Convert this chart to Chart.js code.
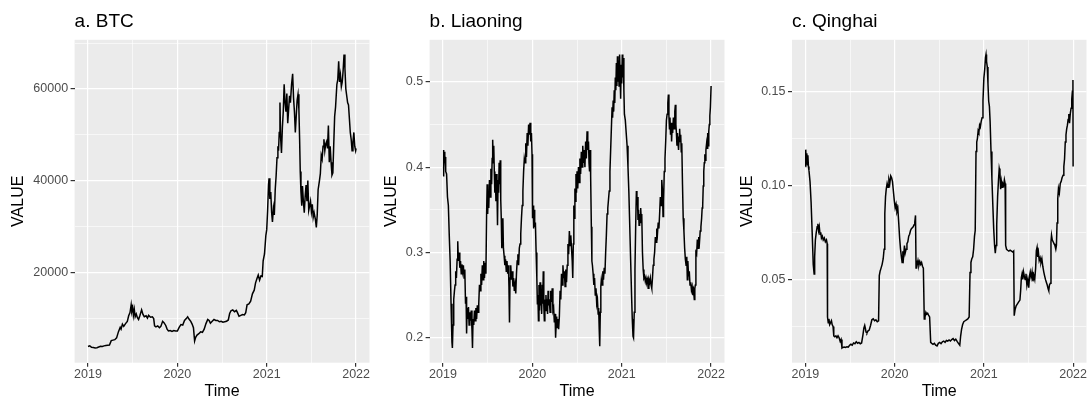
<!DOCTYPE html>
<html>
<head>
<meta charset="utf-8">
<script src="https://cdn.jsdelivr.net/npm/chart.js@4"></script>
<style>
  html, body { margin:0; padding:0; background:#fff; }
  #wrap { position:relative; width:1087px; height:403px; overflow:hidden; }
  canvas { position:absolute; top:0; }
</style>
</head>
<body>
<div id="wrap">
  <canvas id="btcChart" width="372" height="403" style="left:0px"></canvas>
  <canvas id="lnChart" width="355" height="403" style="left:372px"></canvas>
  <canvas id="qhChart" width="360" height="403" style="left:727px"></canvas>
</div>
<script>
// time axis (decimal years) and tick labels
const yearTicks = [2019, 2020, 2021, 2022];
const yearMinor = [2019.5, 2020.5, 2021.5];

const btcTicks = [20000, 40000, 60000];
const btcMinor = [10000, 30000, 50000, 70000];
const lnTicks = [0.2, 0.3, 0.4, 0.5];
const lnMinor = [0.25, 0.35, 0.45];
const qhTicks = [0.05, 0.10, 0.15];
const qhMinor = [0.025, 0.075, 0.125];

// [time, value]
const btc = [
  [2019.000,3800],[2019.020,3950],[2019.040,3650],[2019.060,3600],[2019.080,3480],[2019.100,3550],
  [2019.120,3700],[2019.140,3850],[2019.160,3800],[2019.180,3950],[2019.200,4050],[2019.220,4100],
  [2019.240,4150],[2019.260,5100],[2019.280,5200],[2019.300,5300],[2019.320,5700],[2019.340,7000],
  [2019.360,8000],[2019.370,7600],[2019.385,8700],[2019.400,8200],[2019.420,8800],[2019.440,9300],
  [2019.455,10500],[2019.470,11200],[2019.483,12900],[2019.490,11500],[2019.500,12300],[2019.508,10600],
  [2019.518,11900],[2019.528,10300],[2019.540,10900],[2019.553,10100],[2019.566,9700],[2019.580,10500],
  [2019.600,11800],[2019.615,10800],[2019.630,10300],[2019.650,10500],[2019.665,10000],[2019.678,10600],
  [2019.700,10200],[2019.720,10300],[2019.735,9900],[2019.745,8300],[2019.760,8100],[2019.780,8300],
  [2019.800,7900],[2019.815,8200],[2019.835,9300],[2019.850,9000],[2019.870,8400],[2019.885,7600],
  [2019.900,7200],[2019.920,7300],[2019.940,7100],[2019.960,7300],[2019.980,7200],[2020.000,7200],
  [2020.020,8000],[2020.040,8600],[2020.060,8500],[2020.080,9500],[2020.100,9900],[2020.115,10300],
  [2020.130,9800],[2020.150,9300],[2020.165,8700],[2020.180,7900],[2020.193,5000],[2020.205,5800],
  [2020.220,6300],[2020.240,6600],[2020.260,7000],[2020.280,6900],[2020.300,7600],[2020.320,8800],
  [2020.340,9700],[2020.355,9500],[2020.370,8900],[2020.390,9300],[2020.410,9700],[2020.430,9500],
  [2020.450,9500],[2020.470,9200],[2020.490,9300],[2020.510,9100],[2020.530,9200],[2020.550,9300],
  [2020.570,9600],[2020.585,11000],[2020.600,11600],[2020.620,11800],[2020.640,11400],[2020.660,11700],
  [2020.670,11300],[2020.690,10400],[2020.710,10600],[2020.730,10800],[2020.750,10700],[2020.765,11200],
  [2020.780,12900],[2020.800,13100],[2020.820,13700],[2020.840,15300],[2020.860,16100],[2020.875,17700],
  [2020.890,18600],[2020.905,19400],[2020.920,18300],[2020.935,19200],[2020.950,19100],[2020.960,22500],
  [2020.975,24000],[2020.990,28000],[2021.000,29300],[2021.010,33500],[2021.020,39000],[2021.026,40500],
  [2021.035,36000],[2021.045,37500],[2021.055,33000],[2021.064,31000],[2021.075,34000],[2021.085,32500],
  [2021.095,38000],[2021.105,41000],[2021.115,45000],[2021.125,47500],[2021.132,46500],[2021.140,50500],
  [2021.148,57000],[2021.155,49500],[2021.165,46000],[2021.175,51500],[2021.185,55000],[2021.195,61000],
  [2021.205,57000],[2021.215,55000],[2021.225,59000],[2021.235,52500],[2021.245,55500],[2021.255,58500],
  [2021.265,57000],[2021.278,61000],[2021.290,63300],[2021.300,58000],[2021.310,55000],[2021.320,50500],
  [2021.330,54000],[2021.340,57500],[2021.350,58800],[2021.360,55500],[2021.368,49000],[2021.375,42000],
  [2021.383,37500],[2021.392,34500],[2021.400,38800],[2021.410,35500],[2021.420,33000],[2021.430,36500],
  [2021.440,39000],[2021.450,35500],[2021.460,40000],[2021.470,33500],[2021.480,34500],[2021.490,35500],
  [2021.500,33200],[2021.510,34800],[2021.520,32000],[2021.530,33000],[2021.545,31500],[2021.555,29800],
  [2021.565,32500],[2021.575,38000],[2021.590,40000],[2021.600,41500],[2021.610,45500],[2021.620,44700],
  [2021.630,47500],[2021.640,49000],[2021.650,46500],[2021.660,48000],[2021.670,48500],[2021.680,47000],
  [2021.690,52000],[2021.700,44000],[2021.710,47500],[2021.720,44000],[2021.730,41200],[2021.740,41700],
  [2021.750,48000],[2021.760,54000],[2021.770,56000],[2021.785,61000],[2021.795,62000],[2021.805,66000],
  [2021.815,61500],[2021.825,63000],[2021.835,60500],[2021.845,61500],[2021.855,64000],[2021.865,67500],
  [2021.875,64500],[2021.885,60000],[2021.895,58500],[2021.905,57000],[2021.915,56500],[2021.925,53500],
  [2021.935,50500],[2021.945,49000],[2021.955,46500],[2021.965,48500],[2021.975,50500],[2021.985,47500],
  [2021.995,46500],[2022.000,47000]
];

const liaoning = [
  [2019.000,0.390],[2019.005,0.420],[2019.010,0.400],[2019.015,0.418],[2019.020,0.405],[2019.025,0.412],
  [2019.030,0.395],[2019.040,0.392],[2019.050,0.365],[2019.060,0.355],[2019.070,0.320],[2019.080,0.290],
  [2019.090,0.240],[2019.100,0.195],[2019.105,0.188],[2019.112,0.215],[2019.120,0.245],[2019.128,0.255],
  [2019.135,0.262],[2019.142,0.278],[2019.150,0.270],[2019.158,0.292],[2019.165,0.313],[2019.172,0.290],
  [2019.180,0.300],[2019.188,0.282],[2019.196,0.290],[2019.204,0.275],[2019.212,0.286],[2019.220,0.278],
  [2019.228,0.285],[2019.236,0.270],[2019.244,0.280],[2019.252,0.240],[2019.258,0.248],[2019.264,0.205],
  [2019.270,0.235],[2019.278,0.222],[2019.285,0.236],[2019.292,0.215],[2019.300,0.230],[2019.308,0.220],
  [2019.316,0.232],[2019.324,0.210],[2019.330,0.188],[2019.336,0.222],[2019.344,0.215],[2019.352,0.232],
  [2019.360,0.220],[2019.368,0.235],[2019.376,0.222],[2019.384,0.238],[2019.392,0.230],[2019.400,0.240],
  [2019.408,0.262],[2019.416,0.255],[2019.424,0.275],[2019.432,0.262],[2019.440,0.285],[2019.448,0.268],
  [2019.456,0.290],[2019.464,0.270],[2019.472,0.288],[2019.480,0.275],[2019.488,0.345],[2019.494,0.380],
  [2019.500,0.345],[2019.506,0.370],[2019.512,0.352],[2019.520,0.385],[2019.528,0.365],[2019.536,0.398],
  [2019.544,0.380],[2019.550,0.410],[2019.556,0.432],[2019.562,0.405],[2019.568,0.425],[2019.574,0.395],
  [2019.580,0.370],[2019.586,0.392],[2019.592,0.360],[2019.598,0.392],[2019.604,0.372],[2019.610,0.332],
  [2019.616,0.385],[2019.622,0.370],[2019.628,0.405],[2019.634,0.380],[2019.640,0.408],[2019.646,0.362],
  [2019.652,0.340],[2019.658,0.305],[2019.664,0.330],[2019.670,0.340],[2019.676,0.305],[2019.684,0.296],
  [2019.692,0.285],[2019.700,0.292],[2019.708,0.278],[2019.716,0.290],[2019.724,0.275],[2019.732,0.285],
  [2019.738,0.260],[2019.744,0.218],[2019.750,0.270],[2019.758,0.285],[2019.766,0.268],[2019.774,0.278],
  [2019.782,0.260],[2019.790,0.270],[2019.798,0.255],[2019.806,0.262],[2019.814,0.252],[2019.822,0.275],
  [2019.830,0.290],[2019.838,0.298],[2019.846,0.285],[2019.854,0.305],[2019.862,0.310],[2019.870,0.322],
  [2019.878,0.340],[2019.886,0.355],[2019.894,0.372],[2019.902,0.395],[2019.910,0.410],[2019.918,0.405],
  [2019.926,0.428],[2019.934,0.412],[2019.942,0.440],[2019.950,0.425],[2019.958,0.450],[2019.966,0.438],
  [2019.974,0.452],[2019.982,0.430],[2019.990,0.440],[2019.996,0.415],[2020.002,0.340],[2020.008,0.355],
  [2020.014,0.328],[2020.020,0.350],[2020.026,0.330],[2020.034,0.335],[2020.042,0.300],[2020.050,0.270],
  [2020.056,0.240],[2020.062,0.250],[2020.068,0.220],[2020.074,0.262],[2020.080,0.232],[2020.086,0.265],
  [2020.092,0.238],[2020.098,0.250],[2020.104,0.228],[2020.110,0.262],[2020.116,0.240],[2020.122,0.278],
  [2020.128,0.238],[2020.134,0.220],[2020.140,0.245],[2020.146,0.232],[2020.152,0.250],[2020.158,0.235],
  [2020.164,0.245],[2020.170,0.228],[2020.176,0.255],[2020.182,0.238],[2020.190,0.245],[2020.198,0.230],
  [2020.206,0.255],[2020.214,0.242],[2020.222,0.258],[2020.230,0.232],[2020.238,0.235],[2020.246,0.218],
  [2020.254,0.228],[2020.260,0.200],[2020.266,0.215],[2020.272,0.225],[2020.278,0.212],[2020.286,0.222],
  [2020.294,0.210],[2020.302,0.225],[2020.310,0.255],[2020.318,0.245],[2020.326,0.275],[2020.334,0.262],
  [2020.342,0.285],[2020.350,0.270],[2020.358,0.278],[2020.366,0.260],[2020.374,0.280],[2020.382,0.265],
  [2020.390,0.285],[2020.398,0.310],[2020.406,0.298],[2020.414,0.325],[2020.422,0.308],[2020.430,0.320],
  [2020.438,0.305],[2020.446,0.290],[2020.452,0.270],[2020.458,0.310],[2020.464,0.355],[2020.470,0.340],
  [2020.476,0.375],[2020.482,0.360],[2020.488,0.392],[2020.494,0.370],[2020.500,0.395],[2020.508,0.375],
  [2020.516,0.400],[2020.524,0.382],[2020.532,0.410],[2020.540,0.392],[2020.548,0.418],[2020.556,0.400],
  [2020.564,0.425],[2020.572,0.405],[2020.580,0.420],[2020.588,0.400],[2020.596,0.430],[2020.604,0.410],
  [2020.612,0.442],[2020.620,0.420],[2020.628,0.430],[2020.634,0.405],[2020.640,0.395],[2020.646,0.420],
  [2020.652,0.390],[2020.660,0.330],[2020.666,0.290],[2020.672,0.285],[2020.680,0.275],[2020.688,0.262],
  [2020.696,0.270],[2020.704,0.250],[2020.712,0.258],[2020.720,0.240],[2020.728,0.245],[2020.736,0.228],
  [2020.742,0.235],[2020.748,0.210],[2020.754,0.190],[2020.760,0.230],[2020.766,0.260],[2020.772,0.268],
  [2020.780,0.262],[2020.788,0.278],[2020.796,0.268],[2020.804,0.282],[2020.812,0.275],[2020.820,0.300],
  [2020.828,0.320],[2020.836,0.345],[2020.844,0.352],[2020.852,0.362],[2020.860,0.372],[2020.868,0.395],
  [2020.876,0.420],[2020.884,0.445],[2020.892,0.470],[2020.898,0.458],[2020.904,0.478],[2020.910,0.465],
  [2020.916,0.490],[2020.922,0.475],[2020.928,0.505],[2020.934,0.490],[2020.940,0.522],[2020.946,0.495],
  [2020.952,0.530],[2020.958,0.500],[2020.964,0.525],[2020.970,0.495],[2020.976,0.532],[2020.982,0.505],
  [2020.988,0.480],[2020.994,0.520],[2021.000,0.498],[2021.006,0.532],[2021.012,0.505],[2021.018,0.528],
  [2021.024,0.490],[2021.030,0.462],[2021.040,0.455],[2021.050,0.440],[2021.060,0.425],[2021.070,0.400],
  [2021.080,0.370],[2021.090,0.330],[2021.100,0.290],[2021.110,0.250],[2021.118,0.222],[2021.126,0.202],
  [2021.132,0.200],[2021.140,0.230],[2021.148,0.280],[2021.156,0.330],[2021.164,0.372],[2021.170,0.360],
  [2021.176,0.365],[2021.182,0.338],[2021.188,0.350],[2021.194,0.332],[2021.200,0.345],[2021.206,0.335],
  [2021.212,0.352],[2021.218,0.340],[2021.224,0.345],[2021.232,0.300],[2021.240,0.280],[2021.248,0.270],
  [2021.256,0.272],[2021.264,0.266],[2021.272,0.270],[2021.280,0.265],[2021.288,0.268],[2021.296,0.258],
  [2021.304,0.268],[2021.312,0.265],[2021.320,0.270],[2021.328,0.262],[2021.336,0.258],[2021.344,0.270],
  [2021.352,0.285],[2021.360,0.292],[2021.368,0.300],[2021.376,0.318],[2021.384,0.312],[2021.392,0.328],
  [2021.400,0.322],[2021.408,0.335],[2021.416,0.328],[2021.424,0.345],[2021.432,0.365],[2021.440,0.355],
  [2021.448,0.385],[2021.456,0.372],[2021.462,0.342],[2021.468,0.360],[2021.476,0.395],[2021.484,0.410],
  [2021.492,0.430],[2021.500,0.455],[2021.508,0.462],[2021.516,0.475],[2021.522,0.485],[2021.528,0.460],
  [2021.534,0.445],[2021.540,0.458],[2021.546,0.438],[2021.552,0.452],[2021.558,0.430],[2021.564,0.448],
  [2021.570,0.440],[2021.578,0.458],[2021.586,0.445],[2021.594,0.465],[2021.600,0.473],[2021.606,0.450],
  [2021.612,0.440],[2021.618,0.425],[2021.624,0.440],[2021.630,0.428],[2021.636,0.420],[2021.642,0.435],
  [2021.648,0.445],[2021.654,0.430],[2021.660,0.438],[2021.666,0.418],[2021.672,0.428],[2021.680,0.380],
  [2021.688,0.340],[2021.696,0.325],[2021.704,0.305],[2021.712,0.292],[2021.720,0.285],[2021.728,0.295],
  [2021.734,0.268],[2021.740,0.290],[2021.748,0.272],[2021.756,0.278],[2021.764,0.262],[2021.772,0.265],
  [2021.780,0.256],[2021.788,0.260],[2021.796,0.250],[2021.804,0.255],[2021.812,0.245],[2021.818,0.258],
  [2021.824,0.262],[2021.830,0.300],[2021.838,0.298],[2021.846,0.315],[2021.854,0.305],[2021.862,0.318],
  [2021.870,0.312],[2021.878,0.325],[2021.886,0.330],[2021.894,0.340],[2021.900,0.352],[2021.906,0.355],
  [2021.912,0.378],[2021.918,0.395],[2021.924,0.405],[2021.930,0.415],[2021.936,0.408],[2021.942,0.420],
  [2021.950,0.428],[2021.956,0.422],[2021.962,0.440],[2021.968,0.425],[2021.974,0.442],[2021.980,0.450],
  [2021.986,0.460],[2021.992,0.470],[2022.000,0.495]
];

const qinghai = [
  [2019.000,0.110],[2019.004,0.119],[2019.010,0.112],[2019.016,0.117],[2019.022,0.111],[2019.028,0.116],
  [2019.034,0.110],[2019.040,0.108],[2019.052,0.102],[2019.064,0.091],[2019.076,0.075],[2019.088,0.058],
  [2019.098,0.0528],[2019.104,0.062],[2019.112,0.071],[2019.122,0.075],[2019.132,0.078],[2019.140,0.0796],
  [2019.148,0.076],[2019.156,0.078],[2019.164,0.074],[2019.172,0.075],[2019.180,0.072],[2019.190,0.073],
  [2019.200,0.071],[2019.212,0.072],[2019.224,0.070],[2019.236,0.071],[2019.244,0.069],[2019.248,0.030],
  [2019.256,0.027],[2019.264,0.029],[2019.272,0.026],[2019.282,0.027],[2019.292,0.028],[2019.300,0.026],
  [2019.310,0.025],[2019.318,0.020],[2019.330,0.0195],[2019.342,0.020],[2019.354,0.019],[2019.366,0.020],
  [2019.378,0.019],[2019.390,0.017],[2019.400,0.018],[2019.410,0.0135],[2019.420,0.0138],[2019.435,0.0140],
  [2019.450,0.0138],[2019.465,0.0142],[2019.480,0.0140],[2019.495,0.0150],[2019.510,0.0155],[2019.525,0.0150],
  [2019.540,0.0162],[2019.555,0.0158],[2019.570,0.0168],[2019.585,0.0160],[2019.600,0.0165],[2019.615,0.0158],
  [2019.630,0.0162],[2019.645,0.0205],[2019.655,0.0240],[2019.665,0.0255],[2019.672,0.0240],[2019.680,0.0220],
  [2019.690,0.0215],[2019.700,0.0225],[2019.715,0.0230],[2019.730,0.0255],[2019.745,0.0285],[2019.760,0.0290],
  [2019.775,0.0280],[2019.790,0.0285],[2019.805,0.0275],[2019.820,0.0280],[2019.828,0.0520],[2019.838,0.0545],
  [2019.848,0.0560],[2019.860,0.0580],[2019.872,0.0610],[2019.882,0.0660],[2019.890,0.0850],[2019.898,0.0940],
  [2019.906,0.0980],[2019.916,0.1010],[2019.926,0.0990],[2019.936,0.1030],[2019.946,0.1010],[2019.956,0.1050],
  [2019.966,0.1040],[2019.976,0.1020],[2019.986,0.0970],[2019.996,0.0920],[2020.006,0.0880],[2020.016,0.0900],
  [2020.026,0.0860],[2020.036,0.0876],[2020.046,0.0800],[2020.056,0.0720],[2020.066,0.0660],[2020.076,0.0620],
  [2020.084,0.0590],[2020.092,0.0650],[2020.100,0.0620],[2020.110,0.0680],[2020.118,0.0640],[2020.128,0.0660],
  [2020.138,0.0690],[2020.148,0.0700],[2020.158,0.0730],[2020.168,0.0740],[2020.178,0.0760],[2020.188,0.0770],
  [2020.198,0.0775],[2020.208,0.0780],[2020.218,0.0790],[2020.226,0.0805],[2020.234,0.0840],[2020.240,0.0560],
  [2020.246,0.0600],[2020.254,0.0580],[2020.262,0.0600],[2020.272,0.0575],[2020.282,0.0595],[2020.292,0.0580],
  [2020.302,0.0590],[2020.312,0.0570],[2020.322,0.0560],[2020.332,0.0290],[2020.340,0.0300],[2020.350,0.0325],
  [2020.360,0.0315],[2020.370,0.0320],[2020.380,0.0310],[2020.392,0.0300],[2020.404,0.0165],[2020.416,0.0160],
  [2020.430,0.0155],[2020.445,0.0160],[2020.460,0.0150],[2020.475,0.0146],[2020.490,0.0160],[2020.505,0.0165],
  [2020.520,0.0158],[2020.535,0.0168],[2020.550,0.0172],[2020.565,0.0165],[2020.580,0.0175],[2020.595,0.0172],
  [2020.610,0.0178],[2020.625,0.0172],[2020.640,0.0180],[2020.655,0.0185],[2020.670,0.0175],[2020.685,0.0182],
  [2020.700,0.0170],[2020.715,0.0160],[2020.730,0.0150],[2020.740,0.0200],[2020.750,0.0234],[2020.762,0.0260],
  [2020.775,0.0275],[2020.790,0.0280],[2020.805,0.0285],[2020.820,0.0290],[2020.835,0.0300],[2020.845,0.0537],
  [2020.855,0.0590],[2020.865,0.0610],[2020.875,0.0620],[2020.885,0.0660],[2020.895,0.0730],[2020.903,0.0760],
  [2020.912,0.1180],[2020.920,0.1230],[2020.928,0.1250],[2020.936,0.1290],[2020.944,0.1280],[2020.952,0.1320],
  [2020.960,0.1310],[2020.970,0.1340],[2020.980,0.1360],[2020.990,0.1450],[2021.000,0.1570],[2021.010,0.1620],
  [2021.018,0.1680],[2021.024,0.1696],[2021.030,0.1660],[2021.038,0.1630],[2021.046,0.1540],[2021.054,0.1447],
  [2021.062,0.1420],[2021.070,0.1340],[2021.080,0.1180],[2021.090,0.1036],[2021.100,0.0900],[2021.110,0.0770],
  [2021.120,0.0680],[2021.128,0.0640],[2021.136,0.0680],[2021.144,0.0790],[2021.154,0.0940],[2021.164,0.1030],
  [2021.172,0.1090],[2021.180,0.1070],[2021.188,0.0980],[2021.196,0.1020],[2021.204,0.0990],[2021.212,0.1010],
  [2021.222,0.1000],[2021.230,0.1030],[2021.238,0.1010],[2021.244,0.0680],[2021.254,0.0660],[2021.266,0.0655],
  [2021.280,0.0650],[2021.294,0.0655],[2021.310,0.0650],[2021.324,0.0645],[2021.334,0.0650],[2021.340,0.0307],
  [2021.350,0.0340],[2021.362,0.0360],[2021.376,0.0370],[2021.390,0.0380],[2021.404,0.0390],[2021.412,0.0440],
  [2021.420,0.0510],[2021.428,0.0530],[2021.436,0.0500],[2021.444,0.0540],[2021.452,0.0520],[2021.462,0.0500],
  [2021.472,0.0530],[2021.482,0.0470],[2021.492,0.0500],[2021.503,0.0456],[2021.512,0.0520],[2021.520,0.0540],
  [2021.530,0.0510],[2021.540,0.0540],[2021.550,0.0490],[2021.560,0.0520],[2021.570,0.0500],[2021.580,0.0560],
  [2021.588,0.0653],[2021.596,0.0670],[2021.604,0.0620],[2021.612,0.0640],[2021.620,0.0600],[2021.630,0.0615],
  [2021.640,0.0590],[2021.650,0.0610],[2021.660,0.0570],[2021.671,0.0540],[2021.680,0.0520],[2021.690,0.0500],
  [2021.700,0.0485],[2021.710,0.0470],[2021.720,0.0450],[2021.727,0.0440],[2021.735,0.0470],[2021.745,0.0480],
  [2021.752,0.0700],[2021.758,0.0735],[2021.766,0.0710],[2021.776,0.0700],[2021.786,0.0690],[2021.796,0.0680],
  [2021.806,0.0660],[2021.813,0.0680],[2021.820,0.0800],[2021.828,0.0930],[2021.836,0.0983],[2021.846,0.0960],
  [2021.856,0.1010],[2021.866,0.1020],[2021.876,0.1040],[2021.888,0.1054],[2021.896,0.1100],[2021.904,0.1140],
  [2021.912,0.1230],[2021.920,0.1268],[2021.928,0.1300],[2021.936,0.1320],[2021.944,0.1350],[2021.952,0.1380],
  [2021.960,0.1330],[2021.968,0.1380],[2021.977,0.1410],[2021.985,0.1460],[2021.992,0.1500],[2021.998,0.1560],
  [2022.000,0.1100]
];

Chart.defaults.font.family = '"Liberation Sans", Arial, Helvetica, sans-serif';
Chart.defaults.animation = false;

// grey panel behind the grid, ggplot style
const panelBg = {
  id: 'panelBg',
  beforeDraw(chart){
    const {ctx, chartArea: a} = chart;
    ctx.save();
    ctx.fillStyle = '#EBEBEB';
    ctx.fillRect(a.left, a.top, a.right - a.left, a.bottom - a.top);
    ctx.restore();
  }
};

// 5% expansion on both ends like ggplot
function expand(lo, hi){ const d = (hi - lo) * 0.05; return [lo - d, hi + d]; }

function tickList(major, minor){
  return major.map(v => ({value: v, major: true}))
    .concat(minor.map(v => ({value: v, major: false})))
    .sort((a, b) => a.value - b.value);
}

const gridOpts = {
  color: '#FFFFFF',
  lineWidth: c => (c.tick && c.tick.major) ? 1.2 : 0.6,
  tickColor: c => (c.tick && c.tick.major) ? '#333333' : 'rgba(0,0,0,0)',
  tickLength: 4,
  drawTicks: true
};

function makePanel(id, title, series, yMajor, yMinor, fmt, yWidth, yTitlePad, padRight){
  const xs = series.map(p => p[0]), ys = series.map(p => p[1]);
  const [xMin, xMax] = expand(Math.min(...xs), Math.max(...xs));
  const [yMin, yMax] = expand(Math.min(...ys), Math.max(...ys));
  new Chart(document.getElementById(id), {
    type: 'line',
    data: {
      datasets: [{
        data: series.map(p => ({x: p[0], y: p[1]})),
        borderColor: '#000000',
        borderWidth: 1.5,
        pointRadius: 0,
        tension: 0,
        fill: false
      }]
    },
    options: {
      responsive: false,
      devicePixelRatio: 1,
      layout: { padding: { left: 0, right: padRight, top: 0, bottom: 0 } },
      plugins: {
        legend: { display: false },
        tooltip: { enabled: false },
        title: {
          display: true, text: title, align: 'start', fullSize: false,
          color: '#000000', font: { size: 19, weight: 'normal', lineHeight: 1.2 },
          padding: { top: 10, bottom: 7 }
        }
      },
      scales: {
        x: {
          type: 'linear', min: xMin, max: xMax,
          afterBuildTicks: s => { s.ticks = tickList(yearTicks, yearMinor); },
          afterFit: s => { s.height = 40.3; s.paddingLeft = 0; s.paddingRight = 0; },
          ticks: {
            autoSkip: false, maxRotation: 0, minRotation: 0, padding: 0,
            color: '#4D4D4D', font: { size: 12.5 },
            callback: v => yearTicks.includes(v) ? String(v) : ''
          },
          grid: gridOpts,
          border: { display: false },
          title: {
            display: true, text: 'Time', color: '#000000',
            font: { size: 16, lineHeight: 1.2 }, padding: { top: 0, bottom: 1.5 }
          }
        },
        y: {
          type: 'linear', min: yMin, max: yMax,
          afterBuildTicks: s => { s.ticks = tickList(yMajor, yMinor); },
          afterFit: s => { s.width = yWidth; s.paddingTop = 0; s.paddingBottom = 0; },
          ticks: {
            autoSkip: false, padding: 2.5,
            color: '#4D4D4D', font: { size: 12.5 },
            callback: v => yMajor.includes(v) ? fmt(v) : ''
          },
          grid: gridOpts,
          border: { display: false },
          title: {
            display: true, text: 'VALUE', color: '#000000',
            font: { size: 16, lineHeight: 1.2 }, padding: { top: yTitlePad, bottom: 0 }
          }
        }
      }
    },
    plugins: [panelBg]
  });
}

makePanel('btcChart', 'a. BTC', btc, btcTicks, btcMinor, v => String(v), 74.6, 9.4, 2.5);
makePanel('lnChart', 'b. Liaoning', liaoning, lnTicks, lnMinor, v => v.toFixed(1), 57.6, 9.7, 2.5);
makePanel('qhChart', 'c. Qinghai', qinghai, qhTicks, qhMinor, v => v.toFixed(2), 65, 10.7, 0.5);
</script>
</body>
</html>
